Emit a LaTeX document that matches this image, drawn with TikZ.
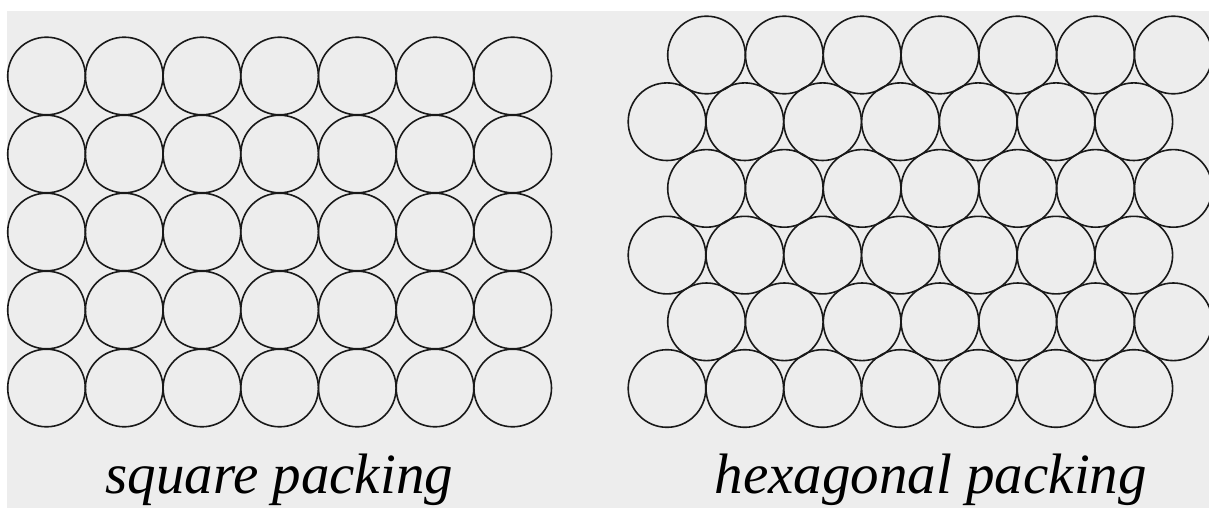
\documentclass[tikz,border=0pt]{standalone}
\usepackage{fontspec}
\setmainfont{Liberation Serif}
\begin{document}
\begin{tikzpicture}[x=1pt,y=-1pt,
  ball/.style={draw=black!90,line width=1.6pt},
  caption/.style={inner sep=0pt,anchor=base,font=\fontsize{57}{60}\selectfont\itshape}]
\useasboundingbox (0,0) rectangle (1209,508);
\fill[white] (0,0) rectangle (1209,508);
\fill[black!7] (7,11) rectangle (1209,508);
\begin{scope}
\clip (0,0) rectangle (1209,508);
% square packing
\foreach \i in {0,...,6}{
  \foreach \j in {0,...,4}{
    \draw[ball] ({46.5+77.7*\i},{76+78*\j}) circle[radius=38.8];
  }
}
% hexagonal packing
\foreach \k in {0,...,5}{
  \pgfmathsetmacro{\xo}{isodd(\k) ? 667 : 706.5}
  \foreach \i in {0,...,6}{
    \draw[ball] ({\xo+77.8*\i},{55+66.7*\k}) circle[radius=38.8];
  }
}
\end{scope}
\node[caption] (sq) at (279.3,493) {square packing};
\node[caption] (hx) at (930.8,493) {hexagonal packing};
\end{tikzpicture}
\end{document}
